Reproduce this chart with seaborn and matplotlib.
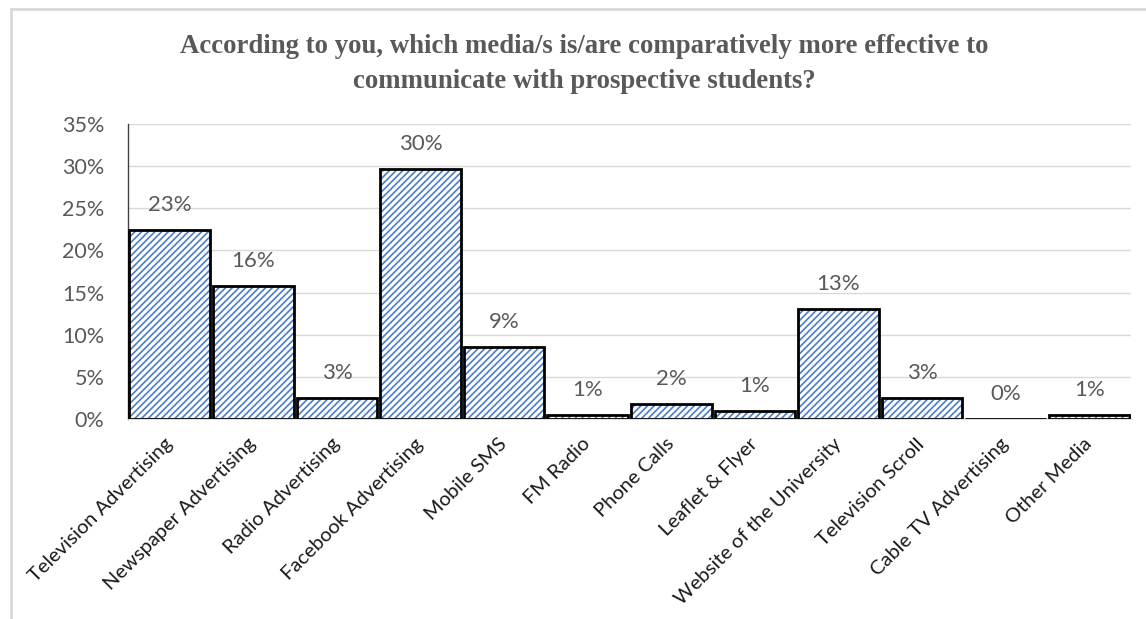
import matplotlib
matplotlib.use("Agg")
import matplotlib.pyplot as plt
import seaborn as sns
import pandas as pd
from matplotlib.patches import Rectangle
from matplotlib.ticker import PercentFormatter

categories = ["Television Advertising", "Newspaper Advertising", "Radio Advertising",
              "Facebook Advertising", "Mobile SMS", "FM Radio", "Phone Calls",
              "Leaflet & Flyer", "Website of the University", "Television Scroll",
              "Cable TV Advertising", "Other Media"]
values = [22.4, 15.8, 2.5, 29.7, 8.6, 0.5, 1.8, 1.0, 13.1, 2.5, 0.0, 0.5]
value_labels = ["23%", "16%", "3%", "30%", "9%", "1%", "2%", "1%", "13%", "3%", "0%", "1%"]
y_ticks = [0, 5, 10, 15, 20, 25, 30, 35]
title = ("According to you, which media/s is/are comparatively more effective to\n"
         "communicate with prospective students?")

sns.set_theme(style="white")
plt.rcParams['font.family'] = ['Lato', 'DejaVu Sans']
plt.rcParams['hatch.linewidth'] = 1.2

df = pd.DataFrame({"media": categories, "value": values})

W, H, DPI = 1146, 619, 100
fig = plt.figure(figsize=(W / DPI, H / DPI), dpi=DPI)
ax_left, ax_right, ax_bottom, ax_top = 128, 1131, 419, 124
ax = fig.add_axes([ax_left / W, 1 - ax_bottom / H, (ax_right - ax_left) / W, (ax_bottom - ax_top) / H])

blue = "#4a7cc9"
sns.barplot(data=df, x="media", y="value", ax=ax, color="white", width=0.965,
            edgecolor=blue, linewidth=0, hatch="/////", saturation=1, errorbar=None, zorder=2)
sns.barplot(data=df, x="media", y="value", ax=ax, fill=False, width=0.965,
            edgecolor="black", linewidth=2.0, errorbar=None, zorder=3)

ax.set_ylim(0, 35)
ax.set_xlim(-0.5, len(categories) - 0.5)
ax.set_yticks(y_ticks)
ax.yaxis.set_major_formatter(PercentFormatter(decimals=0))
ax.grid(axis="y", color="#d9d9d9", linewidth=1.0, zorder=0)
ax.set_axisbelow(True)
for s in ["top", "right"]:
    ax.spines[s].set_visible(False)
ax.spines["left"].set_color("#404040")
ax.spines["left"].set_linewidth(1.0)
ax.spines["bottom"].set_color("#d9d9d9")
ax.spines["bottom"].set_linewidth(1.2)
ax.tick_params(axis="y", length=0, pad=17, labelsize=15.5, labelcolor="#595959")
ax.tick_params(axis="x", length=0, pad=16, labelsize=14.5, labelcolor="#1a1a1a")
ax.set_xlabel("")
ax.set_ylabel("")
for lbl in ax.get_xticklabels():
    lbl.set_rotation(45)
    lbl.set_ha("right")
    lbl.set_va("center")
    lbl.set_rotation_mode("anchor")

for i, (v, t) in enumerate(zip(values, value_labels)):
    ax.annotate(t, (i, v), xytext=(0, 18), textcoords="offset points",
                ha="center", va="center", fontsize=16, color="#595959")

fig.text(584 / W, 1 - 64 / H, title, ha="center", va="center", fontsize=19.3,
         fontweight="bold", family="Liberation Serif", color="#595959", linespacing=1.5)

fig.patches.append(Rectangle((11 / W, -0.1), 2.0, 1 - 9 / H + 0.1, transform=fig.transFigure,
                             fill=False, edgecolor="#d9d9d9", linewidth=2))

fig.savefig("out.png", dpi=DPI)
